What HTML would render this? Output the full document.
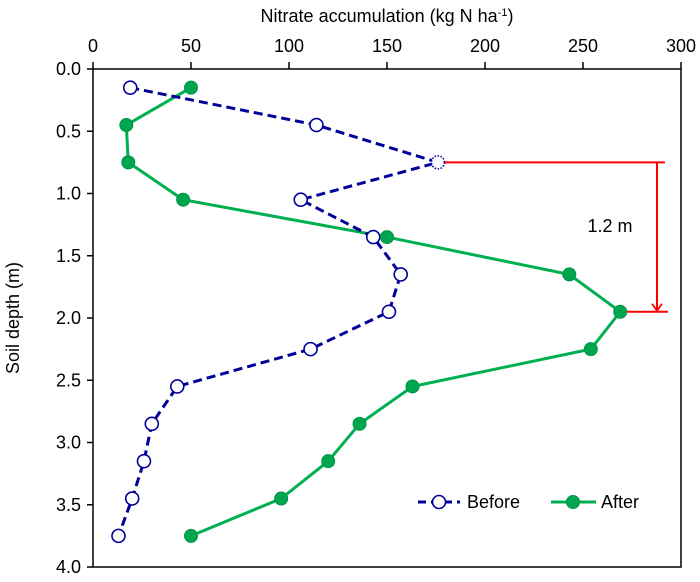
<!DOCTYPE html>
<html><head><meta charset="utf-8"><style>
body{margin:0;background:#fff;}
svg text{font-family:"Liberation Sans",Arial,sans-serif;fill:#000;}
</style></head><body>
<svg width="700" height="577" viewBox="0 0 700 577" xmlns="http://www.w3.org/2000/svg">
<defs>
<marker id="arr" viewBox="0 0 12 12" refX="6" refY="11" markerWidth="12" markerHeight="12" orient="0" markerUnits="userSpaceOnUse">
<path d="M1,4 L6,11 L11,4" fill="none" stroke="#ff0000" stroke-width="1.8"/>
</marker>
</defs>
<g id="g"></g>
</svg>
<script>
const depths=[0.15,0.45,0.75,1.05,1.35,1.65,1.95,2.25,2.55,2.85,3.15,3.45,3.75];
const before=[19,114,176,106,143,157,151,111,43,30,26,20,13];
const after=[50,17,18,46,150,243,269,254,163,136,120,96,50];
const xTicks=[0,50,100,150,200,250,300];
const yTicks=[0.0,0.5,1.0,1.5,2.0,2.5,3.0,3.5,4.0];
const L=93,R=681,T=69,B=567;
const xs=v=>L+(v-0)/300*(R-L);
const ys=v=>T+v/4*(B-T);
const NS="http://www.w3.org/2000/svg";
const g=document.getElementById('g');
function mk(tag,attrs,parent){const e=document.createElementNS(NS,tag);for(const k in attrs)e.setAttribute(k,attrs[k]);(parent||g).appendChild(e);return e;}
let e;
e=mk('rect',{x:L,y:T,width:R-L,height:B-T,fill:'none',stroke:'#000','stroke-width':1.5});


xTicks.forEach(t=>{
  e=mk('line',{x1:xs(t),x2:xs(t),y1:T-7,y2:T,stroke:'#000','stroke-width':1.5});
  
  
  e=mk('text',{x:xs(t),y:T-17,'text-anchor':'middle','font-size':18});
  e.textContent=t;
  
  
});
yTicks.forEach(t=>{
  e=mk('line',{x1:L-6,x2:L,y1:ys(t),y2:ys(t),stroke:'#000','stroke-width':1.5});
  
  
  e=mk('text',{x:L-12,y:ys(t)+6,'text-anchor':'end','font-size':18});
  e.textContent=t.toFixed(1);
  
  
});
e=mk('text',{x:387,y:22,'text-anchor':'middle','font-size':18});
e.innerHTML='Nitrate accumulation (kg N ha<tspan dy="-6" font-size="11">-1</tspan><tspan dy="6">)</tspan>';


e=mk('text',{x:0,y:0,'text-anchor':'middle','font-size':18,transform:'translate(19,318) rotate(-90)'});
e.textContent='Soil depth (m)';


const y1=ys(depths[2]),y2=ys(depths[6]);
e=mk('line',{x1:xs(before[2])+6,x2:665,y1:y1,y2:y1,stroke:'#ff0000','stroke-width':2});


e=mk('line',{x1:xs(after[6]),x2:668,y1:y2,y2:y2,stroke:'#ff0000','stroke-width':2});


e=mk('line',{x1:657,x2:657,y1:y1,y2:y2-1,stroke:'#ff0000','stroke-width':2,'marker-end':'url(#arr)'});


e=mk('text',{x:610,y:232,'text-anchor':'middle','font-size':18});
e.textContent='1.2 m';


const pb=depths.map((d,i)=>xs(before[i])+','+ys(d)).join(' ');
const pa=depths.map((d,i)=>xs(after[i])+','+ys(d)).join(' ');
e=mk('polyline',{points:pa,fill:'none',stroke:'#00b050','stroke-width':3});


e=mk('polyline',{points:pb,fill:'none',stroke:'#000099','stroke-width':3,'stroke-dasharray':'9,5'});


depths.forEach((d,i)=>{
  e=mk('circle',{cx:xs(before[i]),cy:ys(d),r:6.5,fill:'#fff',stroke:'#000099','stroke-width':1.6,'stroke-dasharray':i==2?'1.5,1.5':'none'});
  
  
  e=mk('circle',{cx:xs(after[i]),cy:ys(d),r:6.5,fill:'#00a64f',stroke:'#009444','stroke-width':1});
  
  
});
const lg=mk('g',{});


e=mk('line',{x1:418,x2:460,y1:502,y2:502,stroke:'#000099','stroke-width':3,'stroke-dasharray':'8,5'},lg);


e=mk('circle',{cx:439,cy:502,r:6.5,fill:'#fff',stroke:'#000099','stroke-width':1.6},lg);


e=mk('text',{x:467,y:508,'font-size':18},lg);
e.textContent='Before';


e=mk('line',{x1:551,x2:596,y1:502,y2:502,stroke:'#00b050','stroke-width':3},lg);


e=mk('circle',{cx:573,cy:502,r:6.5,fill:'#00a64f',stroke:'#009444'},lg);


e=mk('text',{x:601,y:508,'font-size':18},lg);
e.textContent='After';


</script>
</body></html>
